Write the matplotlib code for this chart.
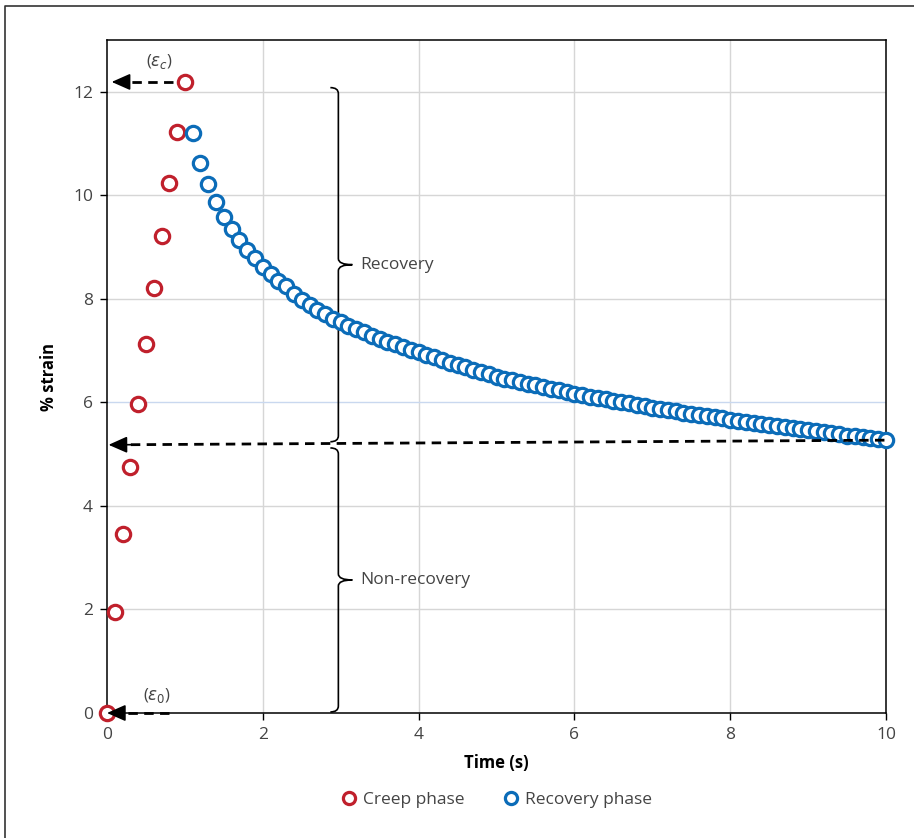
import matplotlib
matplotlib.use("Agg")
import matplotlib.pyplot as plt
from matplotlib.path import Path
from matplotlib.patches import PathPatch, Rectangle

# ---------------- data ----------------
creep_time = [0.0, 0.1, 0.2, 0.3, 0.4, 0.5, 0.6, 0.7, 0.8, 0.9, 1.0]
creep_strain = [0.0, 1.95, 3.45, 4.75, 5.97, 7.12, 8.20, 9.22, 10.24, 11.23, 12.19]

recovery_time = [round(1.1 + 0.1 * i, 1) for i in range(90)]
recovery_strain = [
    11.21, 10.63, 10.21, 9.87, 9.58, 9.34, 9.13, 8.95, 8.78, 8.62,
    8.48, 8.35, 8.24, 8.10, 7.98, 7.88, 7.79, 7.70, 7.62, 7.55,
    7.48, 7.41, 7.35, 7.29, 7.23, 7.17, 7.12, 7.07, 7.02, 6.97,
    6.92, 6.87, 6.82, 6.77, 6.72, 6.68, 6.63, 6.59, 6.54, 6.50,
    6.46, 6.43, 6.39, 6.36, 6.33, 6.29, 6.26, 6.23, 6.20, 6.17,
    6.14, 6.11, 6.09, 6.06, 6.03, 6.00, 5.98, 5.95, 5.93, 5.90,
    5.88, 5.85, 5.83, 5.80, 5.78, 5.76, 5.73, 5.71, 5.69, 5.66,
    5.64, 5.62, 5.60, 5.58, 5.56, 5.54, 5.52, 5.50, 5.48, 5.46,
    5.44, 5.42, 5.40, 5.38, 5.36, 5.35, 5.33, 5.31, 5.29, 5.27,
]

x_ticks = [0, 2, 4, 6, 8, 10]
y_ticks = [0, 2, 4, 6, 8, 10, 12]
series_labels = ["Creep phase", "Recovery phase"]
region_labels = ["Recovery", "Non-recovery"]

# ---------------- style ----------------
plt.rcParams["font.family"] = ["Open Sans", "DejaVu Sans"]
plt.rcParams["mathtext.fontset"] = "dejavusans"

RED = "#c0202c"
BLUE = "#0b6cb8"
GRID = "#d6d6d6"
TXT = "#444444"

fig = plt.figure(figsize=(9.14, 8.38), dpi=100)
ax = fig.add_axes([107 / 914, 1 - 713 / 838, (886 - 107) / 914, (713 - 40) / 838])

ax.set_xlim(0, 10)
ax.set_ylim(0, 13)
ax.set_xticks(x_ticks)
ax.set_yticks(y_ticks)
ax.tick_params(axis="both", direction="out", length=5, width=1, colors="black",
               labelcolor=TXT, labelsize=12.5, pad=5)
for s in ax.spines.values():
    s.set_color("black")
    s.set_linewidth(1.1)

# grid
for xv in x_ticks[1:-1]:
    ax.axvline(xv, color=GRID, lw=1, zorder=0)
for yv in y_ticks[1:]:
    ax.axhline(yv, color="#c9d8ef" if yv == 6 else GRID, lw=1, zorder=0)

# data
ax.plot(creep_time, creep_strain, "o", ms=10.3, mfc="white", mec=RED, mew=2.3,
        ls="none", clip_on=False, zorder=5, label=series_labels[0])
ax.plot(recovery_time, recovery_strain, "o", ms=10.3, mfc="white", mec=BLUE, mew=2.3,
        ls="none", clip_on=False, zorder=5, label=series_labels[1])

ax.set_xlabel("Time (s)", fontsize=12, fontweight="bold", labelpad=8, color="black")
ax.set_ylabel("% strain", fontsize=12, fontweight="bold", labelpad=11, color="black")


# dashed arrows
def dashed_arrow(x0, y0, x1, y1):
    frac = 0.10 / max(abs(x0 - x1), 0.10)
    xe = x1 + (x0 - x1) * frac
    ye = y1 + (y0 - y1) * frac
    ax.plot([x0, xe], [y0, ye], color="black", lw=2.0, ls=(0, (3.4, 2.3)),
            zorder=6, clip_on=False, dash_capstyle="butt")
    ax.annotate("", xy=(x1, y1), xytext=(xe + (x0 - x1) * 0.02, ye + (y0 - y1) * 0.02),
                arrowprops=dict(arrowstyle="-|>,head_length=0.95,head_width=0.42",
                                color="black", lw=1.2, mutation_scale=12,
                                shrinkA=0, shrinkB=0),
                zorder=7, annotation_clip=False)


dashed_arrow(0.85, 12.19, 0.06, 12.19)
dashed_arrow(9.98, 5.27, 0.02, 5.18)
dashed_arrow(0.80, 0.0, 0.0, 0.0)

ax.text(0.68, 12.58, r"($\varepsilon_c$)", fontsize=12, color=TXT, ha="center", va="center")
ax.text(0.64, 0.33, r"($\varepsilon_0$)", fontsize=12, color=TXT, ha="center", va="center")

# braces
SX = 77.9   # px per x unit
SY = 51.77  # px per y unit


def brace(x0, y_top, y_bot):
    hw = 8 / SX
    hh = 6 / SY
    pw = 14 / SX
    ph = 6 / SY
    ym = (y_top + y_bot) / 2
    verts = [(x0 - hw, y_top), (x0, y_top), (x0, y_top - hh),
             (x0, ym + ph),
             (x0, ym), (x0 + pw, ym),
             (x0, ym), (x0, ym - ph),
             (x0, y_bot + hh),
             (x0, y_bot), (x0 - hw, y_bot)]
    codes = [Path.MOVETO, Path.CURVE3, Path.CURVE3,
             Path.LINETO,
             Path.CURVE3, Path.CURVE3,
             Path.CURVE3, Path.CURVE3,
             Path.LINETO,
             Path.CURVE3, Path.CURVE3]
    ax.add_patch(PathPatch(Path(verts, codes), fill=False, ec="black", lw=1.2,
                           zorder=4, clip_on=False))
    return ym


m1 = brace(2.97, 12.08, 5.24)
m2 = brace(2.97, 5.12, 0.02)
ax.text(3.25, m1, region_labels[0], fontsize=12.5, color=TXT, ha="left", va="center")
ax.text(3.25, m2, region_labels[1], fontsize=12.5, color=TXT, ha="left", va="center")

# legend
leg = fig.legend(loc="center", bbox_to_anchor=(0.543, 1 - 800 / 838), ncol=2,
                 frameon=False, fontsize=12.5, handletextpad=0.3, columnspacing=2.2,
                 handlelength=1.0, markerscale=0.85)
for t in leg.get_texts():
    t.set_color(TXT)

# outer frame (left and top edges visible)
fig.add_artist(plt.Line2D([5 / 914, 5 / 914, 1.0], [0.0, 1 - 6 / 838, 1 - 6 / 838],
                          transform=fig.transFigure, color="#333333", lw=1.2))

fig.savefig("out.png", dpi=100)
